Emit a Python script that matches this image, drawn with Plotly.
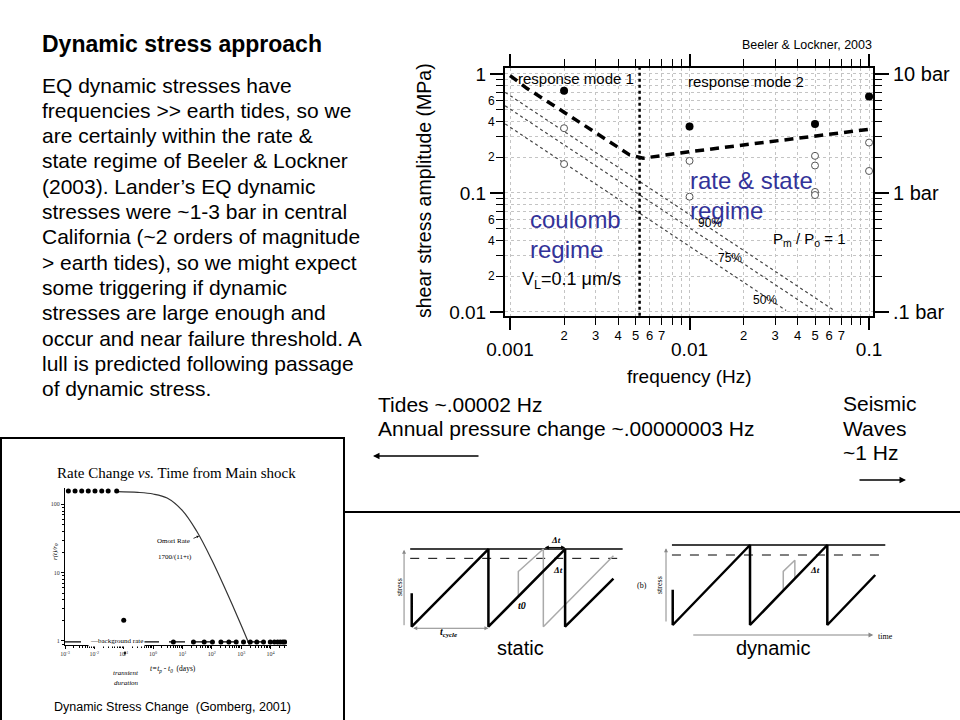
import plotly.graph_objects as go

W, H = 960, 720
def X(px): return px / W
def Y(py): return 1 - py / H

SANS = "Liberation Sans, Arial, sans-serif"
SERIF = "Liberation Serif, Times New Roman, serif"
BLUE = "#333399"

# ---------------- Main chart (Beeler & Lockner, 2003) ----------------
freq_major = [0.001, 0.01, 0.1]
freq_major_text = ["0.001", "0.01", "0.1"]
freq_minor_label_vals = [0.002, 0.003, 0.004, 0.005, 0.006, 0.007,
                         0.02, 0.03, 0.04, 0.05, 0.06, 0.07]
freq_minor_label_text = ["2", "3", "4", "5", "6", "7", "2", "3", "4", "5", "6", "7"]
freq_minor_ticks = [0.002, 0.003, 0.004, 0.005, 0.006, 0.007, 0.008, 0.009,
                    0.02, 0.03, 0.04, 0.05, 0.06, 0.07, 0.08, 0.09]

amp_major = [0.01, 0.1, 1]
amp_major_text = ["0.01", "0.1", "1"]
amp_bar_text = [".1 bar", "1 bar", "10 bar"]
amp_minor_label_vals = [0.02, 0.04, 0.06, 0.2, 0.4, 0.6]
amp_minor_label_text = ["2", "4", "6", "2", "4", "6"]
amp_minor_ticks = [0.02, 0.03, 0.04, 0.05, 0.06, 0.07, 0.08, 0.09,
                   0.2, 0.3, 0.4, 0.5, 0.6, 0.7, 0.8, 0.9]

# response mode boundary (thick dashed)
mode_f = [0.00100, 0.00124, 0.00198, 0.00267, 0.00392, 0.00464,
          0.00551, 0.0100, 0.0445, 0.104]
mode_s = [0.97, 0.758, 0.482, 0.361, 0.245, 0.209,
          0.196, 0.222, 0.294, 0.345]
# vertical divider between response mode 1 and 2
divider_f = [0.00527, 0.00527]
divider_s = [0.0093, 1.12]

# thin dotted failure lines (90%, 75%, 50%)
line90_f = [0.00094, 0.0639]
line90_s = [0.70, 0.0103]
line75_f = [0.00094, 0.0494]
line75_s = [0.54, 0.0103]
line50_f = [0.00094, 0.0345]
line50_s = [0.38, 0.0103]

# observations
filled_f = [0.002, 0.01, 0.05, 0.1]
filled_s = [0.724, 0.361, 0.38, 0.645]
open_f = [0.002, 0.002, 0.01, 0.01, 0.05, 0.05, 0.05, 0.05, 0.1, 0.1]
open_s = [0.35, 0.175, 0.186, 0.093, 0.205, 0.17, 0.102, 0.096, 0.265, 0.153]

# ---------------- Rate change plot (Gomberg, 2001) ----------------
rc_xticks = [1e-3, 1e-2, 1e-1, 1, 10, 100, 1e3, 1e4]
rc_xtext = ["10<sup>-3</sup>", "10<sup>-2</sup>", "10<sup>-1</sup>", "10<sup>0</sup>",
            "10<sup>1</sup>", "10<sup>2</sup>", "10<sup>3</sup>", "10<sup>4</sup>"]
rc_yticks = [1, 10, 100]
rc_ytext = ["1", "10", "100"]
early_t = [0.0013, 0.0022, 0.0037, 0.0062, 0.0105, 0.0178, 0.0295, 0.0575]
early_r = [157, 157, 157, 157, 157, 157, 157, 157]
omori_t = [0.06, 0.3, 1, 3, 10, 30, 100, 300, 1000, 1900]
omori_r = [154, 150, 142, 124, 81, 41, 15.3, 5.5, 1.7, 0.88]
lone_t = [0.1]
lone_r = [2.0]
late_t = [4.9, 23.7, 55, 105, 204, 380, 676, 1200, 2040, 3390, 5750, 9770,
          13500, 17400, 21400, 26300, 30200]
late_r = [0.96] * 17
bg_t = [0.001, 30000]
bg_r = [0.97, 0.97]

# ---------------- Sawtooth diagrams ----------------
static_t = [0, 0, 1, 1, 2, 2, 2.63]
static_s = [0.43, 0, 1, 0, 1, 0, 0.62]
static_gray_t = [1.39, 1.39, 1.716, 1.716, 2.63]
static_gray_s = [0.39, 0.71, 1.0, 0, 0.914]
static_top_t = [-0.02, 2.75]
static_top_s = [1.0, 1.0]
static_thr_s = [0.88, 0.88]

dyn_t = [0, 0, 1, 1, 2, 2, 2.62]
dyn_s = [0.44, 0, 1, 0, 1, 0, 0.625]
dyn_gray_t = [1.43, 1.43, 1.58, 1.58]
dyn_gray_s = [0.43, 0.67, 0.81, 0.58]
dyn_top_t = [-0.01, 2.75]
dyn_top_s = [1.0, 1.0]
dyn_thr_s = [0.875, 0.875]

fig = go.Figure()

def sc(x, y, xa, ya, **kw):
    fig.add_trace(go.Scatter(x=x, y=y, xaxis=xa, yaxis=ya, showlegend=False,
                             hoverinfo="skip", **kw))

# main traces
sc(line90_f, line90_s, "x", "y", mode="lines", line=dict(color="#444", width=1.2, dash="dot"))
sc(line75_f, line75_s, "x", "y", mode="lines", line=dict(color="#444", width=1.2, dash="dot"))
sc(line50_f, line50_s, "x", "y", mode="lines", line=dict(color="#444", width=1.2, dash="dot"))
sc(divider_f, divider_s, "x", "y", mode="lines", line=dict(color="black", width=2.5, dash="dot"))
sc(mode_f, mode_s, "x", "y", mode="lines", line=dict(color="black", width=3.5, dash="9px,6px"))
sc(filled_f, filled_s, "x", "y", mode="markers", marker=dict(color="black", size=8))
sc(open_f, open_s, "x", "y", mode="markers",
   marker=dict(color="white", size=7, symbol="circle", line=dict(color="#555", width=1)))
# dummy traces for overlay axes
sc([], [], "x5", "y", mode="markers")
sc([], [], "x", "y5", mode="markers")
sc([], [], "x", "y6", mode="markers")

# rate change traces
sc(bg_t, bg_r, "x2", "y2", mode="lines", line=dict(color="black", width=1.3, dash="16px,10px"))
sc(omori_t, omori_r, "x2", "y2", mode="lines", line=dict(color="#333", width=1.2, shape="spline"))
sc(early_t, early_r, "x2", "y2", mode="markers", marker=dict(color="black", size=5))
sc(lone_t, lone_r, "x2", "y2", mode="markers", marker=dict(color="black", size=5))
sc(late_t, late_r, "x2", "y2", mode="markers", marker=dict(color="black", size=5))

# static diagram
sc(static_top_t, static_top_s, "x3", "y3", mode="lines", line=dict(color="black", width=1.5))
sc(static_top_t, static_thr_s, "x3", "y3", mode="lines", line=dict(color="black", width=1, dash="dash"))
sc(static_gray_t, static_gray_s, "x3", "y3", mode="lines", line=dict(color="#aaaaaa", width=1.5))
sc(static_t, static_s, "x3", "y3", mode="lines", line=dict(color="black", width=2.5))
# dynamic diagram
sc(dyn_top_t, dyn_top_s, "x4", "y4", mode="lines", line=dict(color="black", width=1.5))
sc(dyn_top_t, dyn_thr_s, "x4", "y4", mode="lines", line=dict(color="black", width=1, dash="dash"))
sc(dyn_gray_t, dyn_gray_s, "x4", "y4", mode="lines", line=dict(color="#aaaaaa", width=1.5))
sc(dyn_t, dyn_s, "x4", "y4", mode="lines", line=dict(color="black", width=2.5))

GRID = "#c4c4c4"
main_x = dict(domain=[X(505), X(873)], type="log", range=[-3.028, -0.978], anchor="y",
              automargin=False,
              showline=True, linecolor="black", linewidth=2, mirror="ticks",
              ticks="outside", ticklen=12, tickwidth=1.5, tickcolor="black",
              tickvals=freq_major, ticktext=freq_major_text,
              tickfont=dict(family=SANS, size=19, color="black"), ticklabelstandoff=3,
              showgrid=True, gridcolor=GRID, griddash="dot", gridwidth=1, zeroline=False,
              minor=dict(tickvals=freq_minor_ticks, ticks="outside", ticklen=7, tickwidth=1.2,
                         tickcolor="black", showgrid=True, gridcolor=GRID, griddash="dot"))
main_y = dict(domain=[Y(316), Y(68)], type="log", range=[-2.034, 0.05], anchor="x",
              automargin=False,
              showline=True, linecolor="black", linewidth=2, mirror="ticks",
              ticks="outside", ticklen=13, tickwidth=1.5, tickcolor="black",
              tickvals=amp_major, ticktext=amp_major_text,
              tickfont=dict(family=SANS, size=19, color="black"), ticklabelstandoff=0,
              showgrid=True, gridcolor=GRID, griddash="dot", gridwidth=1, zeroline=False,
              minor=dict(tickvals=amp_minor_ticks, ticks="outside", ticklen=7, tickwidth=1.2,
                         tickcolor="black", showgrid=True, gridcolor=GRID, griddash="dot"))
over_x = dict(overlaying="x", anchor="y", side="bottom", type="log", range=[-3.028, -0.978],
              automargin=False,
              tickvals=freq_minor_label_vals, ticktext=freq_minor_label_text,
              ticks="outside", ticklen=7, tickwidth=1.2, tickcolor="black",
              tickfont=dict(family=SANS, size=13, color="black"), ticklabelstandoff=0,
              showgrid=False, showline=False, zeroline=False)
over_y = dict(overlaying="y", anchor="x", side="left", type="log", range=[-2.034, 0.05],
              automargin=False,
              tickvals=amp_minor_label_vals, ticktext=amp_minor_label_text,
              ticks="outside", ticklen=7, tickwidth=1.2, tickcolor="black",
              tickfont=dict(family=SANS, size=12, color="black"), ticklabelstandoff=0,
              showgrid=False, showline=False, zeroline=False)
bar_y = dict(overlaying="y", anchor="x", side="right", type="log", range=[-2.034, 0.05],
             automargin=False,
             tickvals=amp_major, ticktext=amp_bar_text,
             ticks="outside", ticklen=15, tickwidth=1.5, tickcolor="black",
             tickfont=dict(family=SANS, size=20, color="black"), ticklabelstandoff=0,
             showgrid=False, showline=False, zeroline=False)

rc_x = dict(domain=[X(65), X(287)], type="log", range=[-3, 4.56], anchor="y2",
            automargin=False,
            showline=True, linecolor="black", linewidth=1, ticks="outside", ticklen=3,
            tickvals=rc_xticks, ticktext=rc_xtext, tickcolor="black",
            tickfont=dict(family=SERIF, size=6, color="#333"), showgrid=False, zeroline=False,
            minor=dict(dtick="D1", ticks="outside", ticklen=2, tickcolor="black"))
rc_y = dict(domain=[Y(645), Y(488)], type="log", range=[-0.06, 2.24], anchor="x2",
            automargin=False,
            showline=True, linecolor="black", linewidth=1, ticks="outside", ticklen=3,
            tickvals=rc_yticks, ticktext=rc_ytext, tickcolor="black",
            tickfont=dict(family=SERIF, size=6, color="#333"), showgrid=False, zeroline=False,
            minor=dict(dtick="D1", ticks="outside", ticklen=2, tickcolor="black"))

hidden = dict(visible=False, showgrid=False, zeroline=False, automargin=False)
fig.update_layout(
    width=W, height=H, autosize=False, margin=dict(l=0, r=0, t=0, b=0, pad=0),
    paper_bgcolor="white", plot_bgcolor="rgba(0,0,0,0)", showlegend=False,
    xaxis=main_x, yaxis=main_y, xaxis5=over_x, yaxis5=over_y, yaxis6=bar_y,
    xaxis2=rc_x, yaxis2=rc_y,
    xaxis3=dict(domain=[X(395), X(630)], range=[-0.218, 2.846], anchor="y3", **hidden),
    yaxis3=dict(domain=[Y(640), Y(540)], range=[-0.171, 1.116], anchor="x3", **hidden),
    xaxis4=dict(domain=[X(650), X(890)], range=[-0.294, 2.811], anchor="y4", **hidden),
    yaxis4=dict(domain=[Y(640), Y(540)], range=[-0.1875, 1.0625], anchor="x4", **hidden),
)

ann = []
def txt(px, py, text, size, color="black", family=SANS, xanchor="left", angle=0, **kw):
    ann.append(dict(x=X(px), y=Y(py), xref="paper", yref="paper", text=text, showarrow=False,
                    xanchor=xanchor, yanchor="middle", textangle=angle,
                    font=dict(family=family, size=size, color=color), **kw))

# left text block
txt(40, 44, "<b>Dynamic stress approach</b>", 23)
body = ["EQ dynamic stresses have",
        "frequencies >> earth tides, so we",
        "are certainly within the rate &",
        "state regime of Beeler & Lockner",
        "(2003). Lander’s EQ dynamic",
        "stresses were ~1-3 bar in central",
        "California (~2 orders of magnitude",
        "> earth tides), so we might expect",
        "some triggering if dynamic",
        "stresses are large enough and",
        "occur and near failure threshold. A",
        "lull is predicted following passage",
        "of dynamic stress."]
for i, line in enumerate(body):
    txt(40, 85 + 25.3 * i, line, 21)

# main chart labels
txt(740, 45, "Beeler & Lockner, 2003", 12.5)
txt(516, 78, "response mode 1", 15)
txt(686, 81, "response mode 2", 15)
txt(688, 180, "rate & state", 24, BLUE)
txt(688, 210, "regime", 24, BLUE)
txt(528, 219, "coulomb", 24, BLUE)
txt(528, 249, "regime", 24, BLUE)
txt(520, 281, "V<sub>L</sub>=0.1 μm/s", 18)
txt(771, 240, "P<sub>m</sub> / P<sub>o</sub> = 1", 15)
txt(696, 223, "90%", 12)
txt(716, 258, "75%", 12)
txt(751, 300, "50%", 12)
txt(424, 191, "shear stress amplitude (MPa)", 19.5, xanchor="center", angle=-90)
txt(689, 376, "frequency (Hz)", 19, xanchor="center")

# frequency notes
txt(376, 404, "Tides ~.00002 Hz", 21)
txt(376, 428, "Annual pressure change ~.00000003 Hz", 21)
txt(841, 403, "Seismic", 21)
txt(841, 428, "Waves", 21)
txt(841, 452, "~1 Hz", 21)
ann.append(dict(x=X(373), y=Y(456), xref="paper", yref="paper", ax=107, ay=0, axref="pixel",
                ayref="pixel", showarrow=True, arrowhead=2, arrowsize=1, arrowwidth=1.3,
                arrowcolor="black", text=""))
ann.append(dict(x=X(906), y=Y(480), xref="paper", yref="paper", ax=-48, ay=0, axref="pixel",
                ayref="pixel", showarrow=True, arrowhead=2, arrowsize=1, arrowwidth=1.3,
                arrowcolor="black", text=""))

# rate change plot labels
txt(176, 473, "Rate Change <i>vs.</i> Time from Main shock", 15, family=SERIF, xanchor="center")
txt(55, 552, "<i>r(t)/r<sub>0</sub></i>", 7, family=SERIF, xanchor="center", angle=-90)
txt(173, 669, "<i>t=t<sub>p</sub> - t<sub>0</sub></i>  (days)", 7.5, family=SERIF, xanchor="center")
txt(126, 673, "<i>transient</i>", 7, family=SERIF, xanchor="center")
txt(126, 683, "<i>duration</i>", 7, family=SERIF, xanchor="center")
txt(155, 541, "Omori Rate", 7, family=SERIF)
txt(156, 557, "1700/(11+t)", 7, family=SERIF)
txt(88, 641, "—background rate", 7, family=SERIF, bgcolor="white")
txt(172, 707, "Dynamic Stress Change  (Gomberg, 2001)", 12.5, xanchor="center")
ann.append(dict(x=X(199), y=Y(536), xref="paper", yref="paper", ax=-7, ay=3, axref="pixel",
                ayref="pixel", showarrow=True, arrowhead=2, arrowsize=0.6, arrowwidth=0.8,
                arrowcolor="black", text=""))
ann.append(dict(x=X(125), y=Y(651), xref="paper", yref="paper", ax=0, ay=6, axref="pixel",
                ayref="pixel", showarrow=True, arrowhead=2, arrowsize=0.7, arrowwidth=0.8,
                arrowcolor="black", text=""))

# sawtooth arrows
static_arrow_t = [-0.1, -0.1]
static_arrow_s = [0.0, 0.99]
cycle_arrow_t = [0.0, 1.0]
cycle_arrow_s = [-0.02, -0.02]
dt_arrow_t = [1.716, 2.0]
dt_arrow_s = [1.02, 1.02]
dyn_arrow_t = [-0.087, -0.087]
dyn_arrow_s = [0.025, 0.96]
time_arrow_t = [0.246, 2.595]
time_arrow_s = [-0.125, -0.125]

def arrow(xa, ya, tx, sy, color, width, side="end"):
    ann.append(dict(x=tx[1], y=sy[1], ax=tx[0], ay=sy[0], xref=xa, yref=ya, axref=xa, ayref=ya,
                    showarrow=True, arrowhead=2, arrowsize=0.8, arrowwidth=width,
                    arrowcolor=color, arrowside=side, text="", startarrowhead=2,
                    startarrowsize=0.8))

arrow("x3", "y3", static_arrow_t, static_arrow_s, "#888", 1)
arrow("x3", "y3", cycle_arrow_t, cycle_arrow_s, "#888", 1, "end+start")
arrow("x3", "y3", dt_arrow_t, dt_arrow_s, "black", 1, "end+start")
arrow("x4", "y4", dyn_arrow_t, dyn_arrow_s, "#888", 1)
arrow("x4", "y4", time_arrow_t, time_arrow_s, "#888", 1.2)

txt(399, 587, "stress", 8, family=SERIF, xanchor="center", angle=-90)
txt(448, 632, "<i><b>t<sub>cycle</sub></b></i>", 10, family=SERIF, xanchor="center")
txt(522, 605, "<i><b>t0</b></i>", 10, family=SERIF, xanchor="center")
txt(556, 540, "<i><b>Δt</b></i>", 9, family=SERIF, xanchor="center")
txt(558, 570, "<i><b>Δt</b></i>", 9, family=SERIF, xanchor="center")
txt(520, 648, "static", 20, xanchor="center")
txt(659, 585, "stress", 8, family=SERIF, xanchor="center", angle=-90)
txt(642, 585, "(b)", 8, family=SERIF, xanchor="center")
txt(815, 570, "<i><b>Δt</b></i>", 9, family=SERIF, xanchor="center")
txt(876, 636, "time", 8, family=SERIF)
txt(773, 648, "dynamic", 20, xanchor="center")

fig.update_layout(annotations=ann)

# slide frame lines
shapes = [
    dict(type="line", xref="paper", yref="paper", x0=X(0), y0=Y(438), x1=X(345), y1=Y(438)),
    dict(type="line", xref="paper", yref="paper", x0=X(1), y0=Y(438), x1=X(1), y1=Y(720)),
    dict(type="line", xref="paper", yref="paper", x0=X(344), y0=Y(438), x1=X(344), y1=Y(720)),
    dict(type="line", xref="paper", yref="paper", x0=X(344), y0=Y(512), x1=X(960), y1=Y(512)),
]
for s in shapes:
    s["line"] = dict(color="black", width=2)
fig.update_layout(shapes=shapes)

fig.write_html("out.html", config={"displayModeBar": False},
               post_script="document.body.style.margin='0';document.body.style.overflow='hidden';")
